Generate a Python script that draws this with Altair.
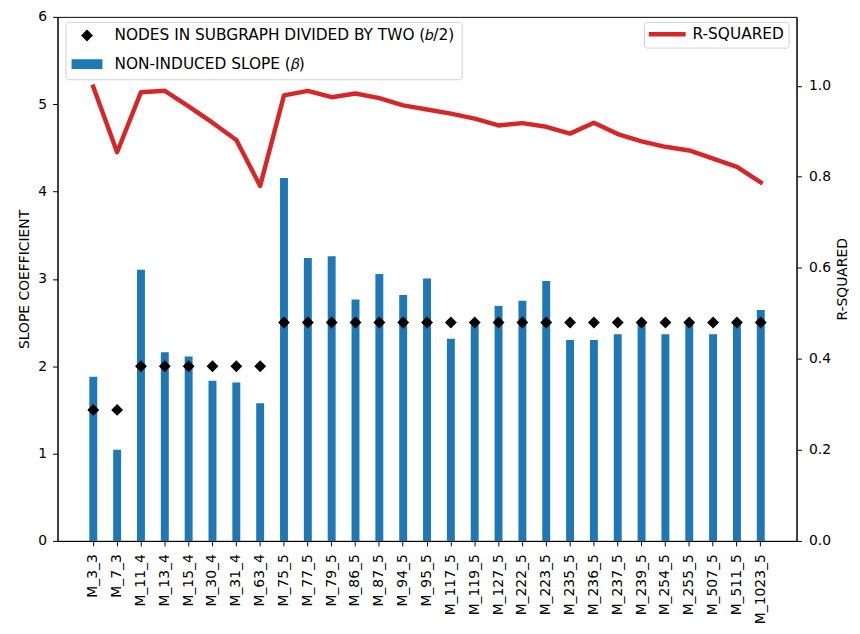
import altair as alt
import pandas as pd

categories = ["M_3_3", "M_7_3", "M_11_4", "M_13_4", "M_15_4", "M_30_4", "M_31_4", "M_63_4",
              "M_75_5", "M_77_5", "M_79_5", "M_86_5", "M_87_5", "M_94_5", "M_95_5", "M_117_5",
              "M_119_5", "M_127_5", "M_222_5", "M_223_5", "M_235_5", "M_236_5", "M_237_5",
              "M_239_5", "M_254_5", "M_255_5", "M_507_5", "M_511_5", "M_1023_5"]

slope = [1.88, 1.045, 3.105, 2.16, 2.11, 1.835, 1.815, 1.575,
         4.155, 3.24, 3.26, 2.765, 3.055, 2.815, 3.005, 2.315,
         2.47, 2.69, 2.75, 2.975, 2.30, 2.30, 2.365,
         2.49, 2.365, 2.48, 2.365, 2.49, 2.645]

half_nodes = [1.5, 1.5, 2.0, 2.0, 2.0, 2.0, 2.0, 2.0,
              2.5, 2.5, 2.5, 2.5, 2.5, 2.5, 2.5, 2.5,
              2.5, 2.5, 2.5, 2.5, 2.5, 2.5, 2.5,
              2.5, 2.5, 2.5, 2.5, 2.5, 2.5]

r_squared = [0.998, 0.854, 0.986, 0.989, 0.955, 0.919, 0.881, 0.780,
             0.979, 0.989, 0.975, 0.983, 0.973, 0.957, 0.948, 0.939,
             0.928, 0.913, 0.918, 0.910, 0.895, 0.919, 0.894,
             0.878, 0.866, 0.858, 0.840, 0.822, 0.788]

left_ticks = [0, 1, 2, 3, 4, 5, 6]
right_ticks = [0.0, 0.2, 0.4, 0.6, 0.8, 1.0]

NODES_LABEL = "NODES IN SUBGRAPH DIVIDED BY TWO (𝑏/2)"
SLOPE_LABEL = "NON-INDUCED SLOPE (𝛽)"
R2_LABEL = "R-SQUARED"

FONT = "DejaVu Sans"
BLUE = "#1f77b4"
RED = "#d62728"

df = pd.DataFrame({"cat": categories, "slope": slope, "half": half_nodes, "r2": r_squared})
df["n_series"] = NODES_LABEL
df["r_series"] = R2_LABEL

x_enc = alt.X(
    "cat:N", sort=categories,
    scale=alt.Scale(paddingInner=0, paddingOuter=1, align=0.5),
    axis=alt.Axis(title=None, labelAngle=270, tickSize=5, labelPadding=8),
)

y_left_scale = alt.Scale(domain=[0, 6], nice=False)
left_axis = alt.Axis(title="SLOPE COEFFICIENT", orient="left", values=left_ticks, format="d",
                     tickSize=5, labelPadding=6, titlePadding=6)

legend_domain = [NODES_LABEL, SLOPE_LABEL]
color_scale = alt.Scale(domain=legend_domain, range=["black", BLUE])
shape_scale = alt.Scale(domain=legend_domain, range=["diamond", "M-2.6,-0.83H2.6V0.83H-2.6Z"])

left_legend = alt.Legend(
    title=None, orient="none", legendX=8, legendY=5, padding=6,
    fillColor="white", strokeColor="#d0d0d0", cornerRadius=3,
    labelFontSize=15.5, labelColor="black", labelLimit=500,
    symbolSize=144, symbolOffset=8, labelOffset=20, rowPadding=12,
    symbolStrokeWidth=0, symbolOpacity=1,
)

bars = alt.Chart(df).mark_bar(width=8, color=BLUE).encode(
    x=x_enc,
    y=alt.Y("slope:Q", scale=y_left_scale, axis=left_axis),
)

points = alt.Chart(df).mark_point(filled=True, opacity=1, size=144).encode(
    x=x_enc,
    y=alt.Y("half:Q", scale=y_left_scale, axis=left_axis),
    color=alt.Color("n_series:N", scale=color_scale, legend=left_legend),
    shape=alt.Shape("n_series:N", scale=shape_scale, legend=left_legend),
)

right_legend = alt.Legend(
    title=None, orient="none", legendX=592, legendY=5, padding=4,
    fillColor="white", strokeColor="#d0d0d0", cornerRadius=3,
    labelFontSize=15.5, labelColor="black", labelLimit=300,
    symbolType="M-3.1,0H3.1", symbolSize=144, symbolStrokeWidth=4.5,
    symbolOffset=11, labelOffset=17,
)

line = alt.Chart(df).mark_line(strokeWidth=4.5, strokeJoin="round", strokeCap="square").encode(
    x=x_enc,
    y=alt.Y("r2:Q", scale=alt.Scale(domain=[0, 1.1515], nice=False),
            axis=alt.Axis(title="R-SQUARED", orient="right", values=right_ticks, format=".1f",
                          tickSize=5, labelPadding=7, titlePadding=19, titleAngle=270)),
    color=alt.Color("r_series:N", scale=alt.Scale(domain=[R2_LABEL], range=[RED]), legend=right_legend),
)

chart = alt.layer(alt.layer(bars, points), line).resolve_scale(
    y="independent", color="independent", shape="independent"
).resolve_legend(
    color="independent", shape="independent"
).properties(
    width=746, height=529,
    autosize=alt.AutoSizeParams(type="none"),
    padding={"left": 50, "top": 6, "right": 56, "bottom": 89},
).configure_view(
    stroke="black", strokeWidth=1
).configure_axis(
    labelFont=FONT, titleFont=FONT, labelFontSize=14, titleFontSize=14,
    titleFontWeight="normal", grid=False, domainColor="black", tickColor="black",
    labelColor="black", titleColor="black", domainWidth=1, tickWidth=1,
).configure_legend(
    labelFont=FONT,
)

chart.save("out.html", embed_options={"renderer": "svg", "actions": False})
